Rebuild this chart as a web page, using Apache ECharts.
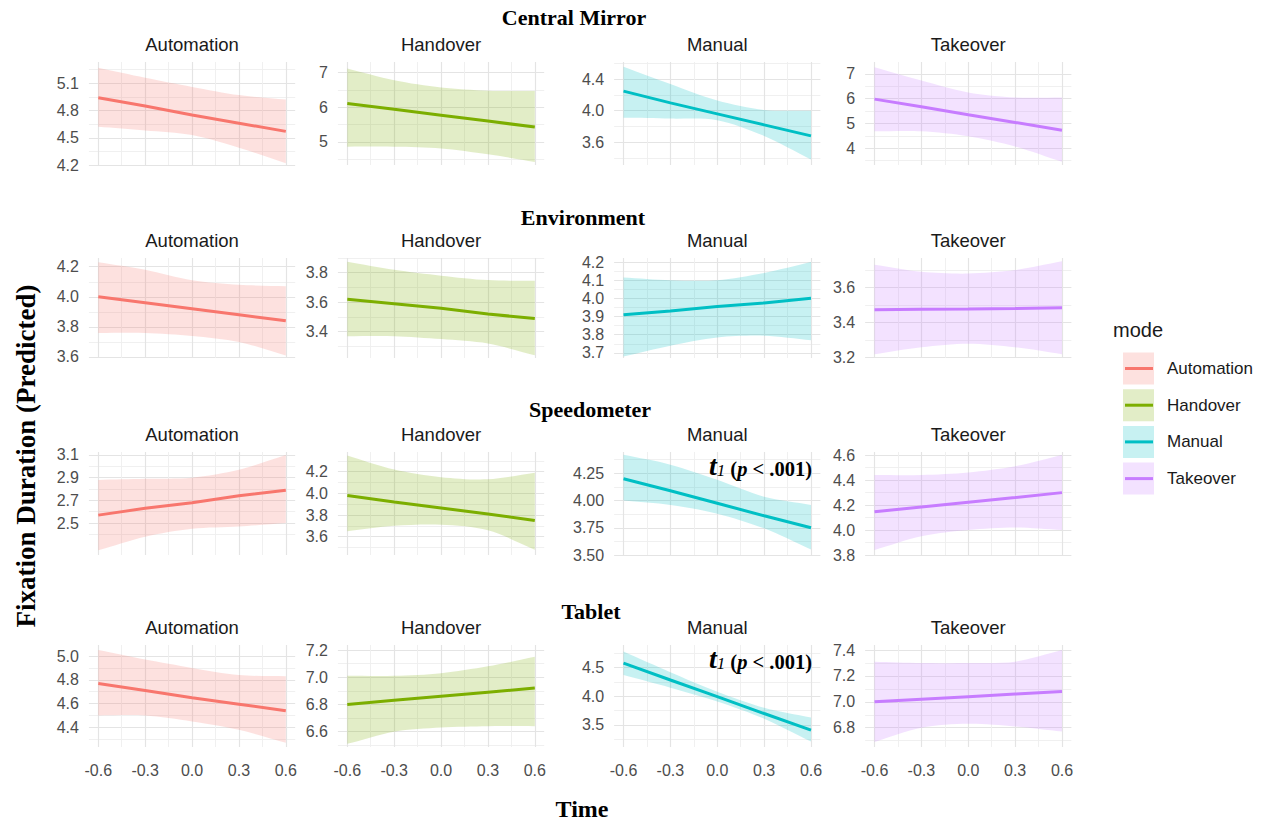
<!DOCTYPE html>
<html>
<head>
<meta charset="utf-8">
<title>Fixation Duration (Predicted)</title>
<script src="https://cdn.jsdelivr.net/npm/echarts@6/dist/echarts.min.js"></script>
<style>
  html, body { margin: 0; padding: 0; background: #ffffff; }
  #chart { width: 1265px; height: 824px; }
</style>
</head>
<body>
<div id="chart"></div>
<script>
// ---- data -------------------------------------------------------------
const areas = ['Central Mirror', 'Environment', 'Speedometer', 'Tablet'];
const modes = ['Automation', 'Handover', 'Manual', 'Takeover'];
const timeValues = [-0.6, -0.3, 0, 0.3, 0.6];
const timeTicks = [-0.6, -0.3, 0, 0.3, 0.6];

// Central Mirror: predicted duration, lower / upper confidence bound (rows = modes)
const centralMirrorFit = [
  [4.94, 4.85, 4.75, 4.66, 4.57],
  [6.11, 5.94, 5.77, 5.60, 5.43],
  [4.25, 4.10, 3.96, 3.82, 3.68],
  [5.98, 5.67, 5.35, 5.04, 4.72]
];
const centralMirrorLower = [
  [4.62, 4.58, 4.53, 4.39, 4.22],
  [4.86, 4.86, 4.81, 4.64, 4.42],
  [3.91, 3.90, 3.88, 3.68, 3.38],
  [4.68, 4.68, 4.48, 4.07, 3.45]
];
const centralMirrorUpper = [
  [5.27, 5.16, 5.06, 4.97, 4.92],
  [7.12, 6.78, 6.57, 6.48, 6.47],
  [4.56, 4.34, 4.13, 4.01, 4.00],
  [7.27, 6.73, 6.25, 6.05, 6.05]
];
const centralMirrorTicks = [[4.2, 4.5, 4.8, 5.1], [5, 6, 7], [3.6, 4.0, 4.4], [4, 5, 6, 7]];
const centralMirrorRange = [[4.2, 5.334], [4.33, 7.31], [3.31, 4.62], [3.32, 7.48]];

// Environment
const environmentFit = [
  [4.00, 3.96, 3.92, 3.88, 3.84],
  [3.62, 3.59, 3.56, 3.52, 3.49],
  [3.91, 3.93, 3.955, 3.975, 4.00],
  [3.473, 3.476, 3.478, 3.481, 3.485]
];
const environmentLower = [
  [3.76, 3.76, 3.74, 3.70, 3.61],
  [3.37, 3.37, 3.35, 3.32, 3.24],
  [3.68, 3.74, 3.785, 3.795, 3.77],
  [3.22, 3.26, 3.28, 3.26, 3.22]
];
const environmentUpper = [
  [4.23, 4.18, 4.11, 4.08, 4.07],
  [3.875, 3.82, 3.78, 3.75, 3.745],
  [4.115, 4.10, 4.10, 4.14, 4.20],
  [3.73, 3.69, 3.68, 3.70, 3.75]
];
const environmentTicks = [[3.6, 3.8, 4.0, 4.2], [3.4, 3.6, 3.8], [3.7, 3.8, 3.9, 4.0, 4.1, 4.2], [3.2, 3.4, 3.6]];
const environmentRange = [[3.593, 4.258], [3.222, 3.90], [3.672, 4.222], [3.198, 3.769]];

// Speedometer
const speedometerFit = [
  [2.57, 2.63, 2.68, 2.74, 2.79],
  [3.98, 3.92, 3.865, 3.81, 3.75],
  [4.20, 4.09, 3.975, 3.86, 3.75],
  [4.146, 4.184, 4.222, 4.26, 4.299]
];
const speedometerLower = [
  [2.26, 2.38, 2.45, 2.47, 2.50],
  [3.65, 3.70, 3.71, 3.66, 3.48],
  [4.00, 3.96, 3.88, 3.745, 3.55],
  [3.84, 3.95, 4.00, 4.02, 4.00]
];
const speedometerUpper = [
  [2.88, 2.89, 2.90, 2.97, 3.10],
  [4.35, 4.22, 4.15, 4.13, 4.19],
  [4.42, 4.33, 4.19, 4.035, 3.96],
  [4.44, 4.44, 4.46, 4.51, 4.60]
];
const speedometerTicks = [[2.5, 2.7, 2.9, 3.1], [3.6, 3.8, 4.0, 4.2], [3.5, 3.75, 4.0, 4.25], [3.8, 4.0, 4.2, 4.4, 4.6]];
const speedometerRange = [[2.219, 3.126], [3.431, 4.382], [3.50, 4.446], [3.80, 4.624]];

// Tablet
const tabletFit = [
  [4.77, 4.71, 4.65, 4.595, 4.54],
  [6.80, 6.83, 6.86, 6.89, 6.92],
  [4.58, 4.285, 3.995, 3.70, 3.41],
  [7.00, 7.02, 7.04, 7.06, 7.08]
];
const tabletLower = [
  [4.50, 4.50, 4.45, 4.38, 4.27],
  [6.51, 6.60, 6.63, 6.64, 6.64],
  [4.37, 4.15, 3.91, 3.61, 3.21],
  [6.69, 6.80, 6.83, 6.81, 6.77]
];
const tabletUpper = [
  [5.05, 4.97, 4.90, 4.84, 4.83],
  [7.01, 7.01, 7.03, 7.08, 7.15],
  [4.78, 4.42, 4.08, 3.80, 3.63],
  [7.31, 7.30, 7.30, 7.31, 7.40]
];
const tabletTicks = [[4.4, 4.6, 4.8, 5.0], [6.6, 6.8, 7.0, 7.2], [3.5, 4.0, 4.5], [6.8, 7.0, 7.2, 7.4]];
const tabletRange = [[4.235, 5.093], [6.487, 7.237], [3.116, 4.895], [6.651, 7.439]];

// significance note per area (Manual panel)
const manualNote = [false, false, true, true];

// ---- layout & style ---------------------------------------------------
const rowFit = [centralMirrorFit, environmentFit, speedometerFit, tabletFit];
const rowLower = [centralMirrorLower, environmentLower, speedometerLower, tabletLower];
const rowUpper = [centralMirrorUpper, environmentUpper, speedometerUpper, tabletUpper];
const rowTicks = [centralMirrorTicks, environmentTicks, speedometerTicks, tabletTicks];
const rowRange = [centralMirrorRange, environmentRange, speedometerRange, tabletRange];

const modeColors = ['#F8766D', '#7CAE00', '#00BFC4', '#C77CFF'];
const ribbonAlpha = 0.22;

const colStart = [98.3, 347.3, 623.5, 874.5];   // pixel of Time = -0.6
const dataWidth = 187.5;                         // pixels from -0.6 to 0.6
const rowTop = [62, 258, 452, 645];
const rowBottom = [165, 358, 555, 747];
const titleCenters = [[574, 17], [583, 217], [590, 409], [591, 611]];

const SANS = '"Liberation Sans", Arial, Helvetica, sans-serif';
const SERIF = '"Liberation Serif", "Times New Roman", Times, serif';
const MAJOR_GRID = { color: '#E4E4E4', width: 1.2 };
const MINOR_GRID = { color: '#EEEEEE', width: 0.9 };
const TOP_Z = 100;

function hexToRgba(hex, a) {
  const n = parseInt(hex.slice(1), 16);
  return 'rgba(' + ((n >> 16) & 255) + ',' + ((n >> 8) & 255) + ',' + (n & 255) + ',' + a + ')';
}
function decimals(values) {
  return Math.max.apply(null, values.map(v => {
    const s = String(v);
    return s.indexOf('.') < 0 ? 0 : s.length - s.indexOf('.') - 1;
  }));
}
function minorBreaks(ticks, lo, hi) {
  const step = ticks[1] - ticks[0];
  const out = [];
  for (let v = ticks[0] - step / 2; v <= ticks[ticks.length - 1] + step / 2 + 1e-9; v += step) {
    const r = Math.round(v * 1e6) / 1e6;
    if (r >= lo && r <= hi) out.push(r);
  }
  return out;
}

const xPad = 0.06;
const xMin = timeTicks[0] - xPad;
const xMax = timeTicks[timeTicks.length - 1] + xPad;
const xMinor = minorBreaks(timeTicks, xMin, xMax);

const grids = [], xAxes = [], yAxes = [], series = [], graphics = [];

areas.forEach((area, r) => {
  modes.forEach((mode, c) => {
    const g = grids.length;
    grids.push({
      left: colStart[c] - dataWidth * 0.05,
      width: dataWidth * 1.1,
      top: rowTop[r],
      height: rowBottom[r] - rowTop[r],
      containLabel: false
    });
    const isBottom = r === areas.length - 1;
    // x axes: major (labelled on the bottom row) + minor grid
    const xMajorIdx = xAxes.length;
    xAxes.push({
      gridIndex: g, type: 'value', min: xMin, max: xMax, position: 'bottom',
      axisLine: { show: false },
      axisTick: { show: false, customValues: timeTicks },
      axisLabel: {
        show: isBottom, customValues: timeTicks, formatter: v => v.toFixed(1),
        fontFamily: SANS, fontSize: 16, color: '#4D4D4D', margin: 15
      },
      splitLine: { show: true, lineStyle: MAJOR_GRID }
    });
    xAxes.push({
      gridIndex: g, type: 'value', min: xMin, max: xMax, position: 'top',
      axisLine: { show: false },
      axisTick: { show: false, customValues: xMinor },
      axisLabel: { show: false },
      splitLine: { show: true, lineStyle: MINOR_GRID }
    });
    // y axes: major (labelled) + minor grid
    const ticks = rowTicks[r][c];
    const [lo, hi] = rowRange[r][c];
    const dec = decimals(ticks);
    const yMajorIdx = yAxes.length;
    yAxes.push({
      gridIndex: g, type: 'value', min: lo, max: hi, position: 'left',
      axisLine: { show: false },
      axisTick: { show: false, customValues: ticks },
      axisLabel: {
        customValues: ticks, formatter: v => v.toFixed(dec),
        fontFamily: SANS, fontSize: 16, color: '#4D4D4D', margin: 10
      },
      splitLine: { show: true, lineStyle: MAJOR_GRID }
    });
    yAxes.push({
      gridIndex: g, type: 'value', min: lo, max: hi, position: 'right',
      axisLine: { show: false },
      axisTick: { show: false, customValues: minorBreaks(ticks, lo, hi) },
      axisLabel: { show: false },
      splitLine: { show: true, lineStyle: MINOR_GRID }
    });

    const fit = rowFit[r][c], lower = rowLower[r][c], upper = rowUpper[r][c];
    const fill = hexToRgba(modeColors[c], ribbonAlpha);
    // confidence ribbon: smoothed closed outline, corner vertices doubled so the
    // vertical ends stay straight
    series.push({
      type: 'custom', name: mode, xAxisIndex: xMajorIdx, yAxisIndex: yMajorIdx,
      silent: true, z: 1, clip: true,
      data: [[timeValues[0], lower[0]]],
      renderItem: function (params, api) {
        const top = upper.map((u, i) => api.coord([timeValues[i], u]));
        const bottom = lower.map((l, i) => api.coord([timeValues[i], l])).reverse();
        const pts = [top[0]].concat(top, [top[top.length - 1]], [bottom[0]], bottom, [bottom[bottom.length - 1]]);
        return { type: 'polygon', shape: { points: pts, smooth: 0.3 }, style: { fill: fill } };
      }
    });
    // fitted line
    series.push({
      type: 'line', name: mode, xAxisIndex: xMajorIdx, yAxisIndex: yMajorIdx,
      data: timeValues.map((t, i) => [t, fit[i]]),
      showSymbol: false, silent: true, z: 3,
      lineStyle: { color: modeColors[c], width: 3 },
      itemStyle: { color: modeColors[c] }
    });

    // facet strip label
    graphics.push({
      type: 'text', x: colStart[c] + dataWidth / 2, y: rowTop[r] - 18, z: TOP_Z,
      style: { text: mode, font: '18.5px ' + SANS, fill: '#1A1A1A', align: 'center', verticalAlign: 'middle' }
    });

    if (mode === 'Manual' && manualNote[r]) {
      graphics.push({
        type: 'text', x: colStart[c] + dataWidth + 1, y: rowTop[r] + 12, z: TOP_Z,
        style: {
          text: '{t|t}{s|1}{n| (}{p|p}{n| < .001)}',
          align: 'right', verticalAlign: 'middle',
          rich: {
            t: { font: 'italic bold 28px ' + SERIF, fill: '#000', verticalAlign: 'bottom', lineHeight: 30 },
            s: { font: 'italic 17px ' + SERIF, fill: '#000', verticalAlign: 'bottom', lineHeight: 30 },
            n: { font: 'bold 20.5px ' + SERIF, fill: '#000', verticalAlign: 'bottom', lineHeight: 30 },
            p: { font: 'italic bold 20.5px ' + SERIF, fill: '#000', verticalAlign: 'bottom', lineHeight: 30 }
          }
        }
      });
    }
  });

  graphics.push({
    type: 'text', x: titleCenters[r][0], y: titleCenters[r][1], z: TOP_Z,
    style: { text: area, font: 'bold 22px ' + SERIF, fill: '#000', align: 'center', verticalAlign: 'middle' }
  });
});

// axis titles
graphics.push({
  type: 'text', x: 26, y: 456, rotation: Math.PI / 2, z: TOP_Z,
  style: { text: 'Fixation Duration (Predicted)', font: 'bold 27px ' + SERIF, fill: '#000', align: 'center', verticalAlign: 'middle' }
});
graphics.push({
  type: 'text', x: 582, y: 809, z: TOP_Z,
  style: { text: 'Time', font: 'bold 24px ' + SERIF, fill: '#000', align: 'center', verticalAlign: 'middle' }
});

// legend
graphics.push({
  type: 'text', x: 1113, y: 330, z: TOP_Z,
  style: { text: 'mode', font: '20px ' + SANS, fill: '#1A1A1A', align: 'left', verticalAlign: 'middle' }
});
modes.forEach((mode, i) => {
  const cy = 368.5 + i * 36.7;
  graphics.push({
    type: 'rect', z: TOP_Z, shape: { x: 1123, y: cy - 16, width: 31, height: 32 },
    style: { fill: hexToRgba(modeColors[i], ribbonAlpha) }
  });
  graphics.push({
    type: 'line', z: TOP_Z, shape: { x1: 1125, y1: cy, x2: 1153, y2: cy },
    style: { stroke: modeColors[i], lineWidth: 3 }
  });
  graphics.push({
    type: 'text', x: 1167, y: cy, z: TOP_Z,
    style: { text: mode, font: '17px ' + SANS, fill: '#1A1A1A', align: 'left', verticalAlign: 'middle' }
  });
});

const chart = echarts.init(document.getElementById('chart'), null, { renderer: 'svg' });
chart.setOption({
  backgroundColor: '#ffffff',
  animation: false,
  grid: grids,
  xAxis: xAxes,
  yAxis: yAxes,
  series: series,
  graphic: graphics
});
</script>
</body>
</html>
